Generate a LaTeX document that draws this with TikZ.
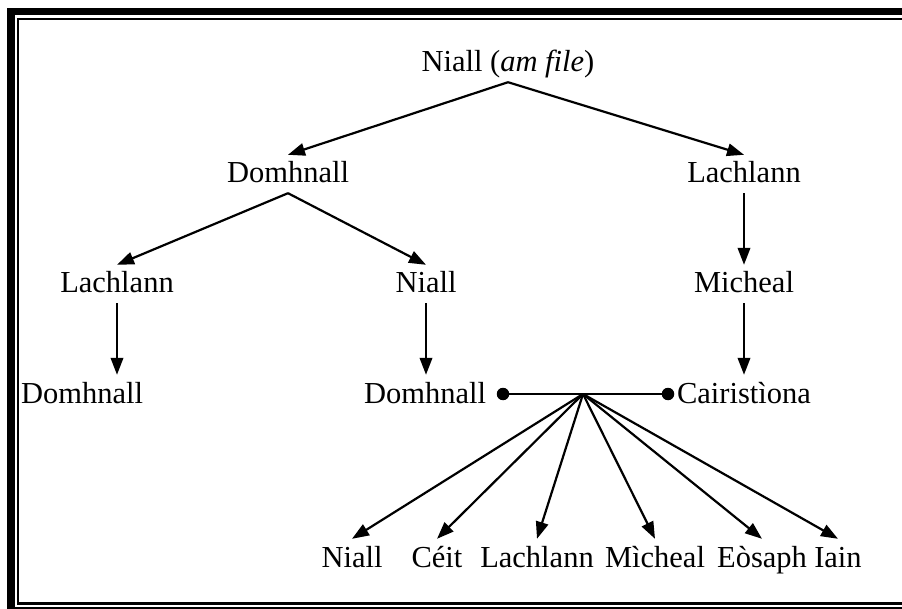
\documentclass[tikz,border=0pt]{standalone}
\usepackage{fontspec}
\setmainfont{Liberation Serif}
\usetikzlibrary{arrows.meta}
\begin{document}
\begin{tikzpicture}[x=1pt,y=-1pt,
  person/.style={anchor=base, inner sep=2.5pt, text height=25.5pt, text depth=7.5pt, font=\fontsize{30.5}{36}\selectfont},
  link/.style={line width=2.2pt, -{Triangle[length=17pt,width=12.5pt]}},
  bar/.style={line width=2.2pt},
  marriagedot/.style={circle, fill=black, draw=none, inner sep=0pt, outer sep=0pt, minimum size=12.5pt}]
\useasboundingbox (0,0) rectangle (902,609);
\clip (0,0) rectangle (902,609);
% frame
\fill[black] (7,8) rectangle (930,630);
\fill[white] (15,15.5) rectangle (925,606.5);
\draw[line width=2.5pt] (17.8,18.8) rectangle (940,603.5);
% people
\node[person] (n0) at (508,72) {Niall (\textit{am file})};
\node[person] (d1) at (288,183) {Domhnall};
\node[person] (l1) at (744,183) {Lachlann};
\node[person] (l2) at (117,293) {Lachlann};
\node[person] (n2) at (426,293) {Niall};
\node[person] (m2) at (744,293) {Micheal};
\node[person] (d3a) at (82,403) {Domhnall};
\node[person] (d3b) at (425,403) {Domhnall};
\node[person] (c3) at (744,403) {Cairistìona};
\node[person] (k1) at (352,567) {Niall};
\node[person] (k2) at (437,567) {Céit};
\node[person] (k3) at (537,567) {Lachlann};
\node[person] (k4) at (655,567) {Mìcheal};
\node[person] (k5) at (762,567) {Eòsaph};
\node[person] (k6) at (838,567) {Iain};
% marriage
\node[marriagedot] (da) at (503,394) {};
\node[marriagedot] (dc) at (668,394) {};
\coordinate (hub) at (583,394);
\draw[bar] (da.center) -- (dc.center);
% connectors
\draw[link] (n0.south) -- (d1.north);
\draw[link] (n0.south) -- (l1.north);
\draw[link] (d1.south) -- (l2.north);
\draw[link] (d1.south) -- (n2.north);
\draw[link] (l1.south) -- (m2.north);
\draw[link] (l2.south) -- (l2.south |- d3a.north);
\draw[link] (n2.south) -- (n2.south |- d3b.north);
\draw[link] (m2.south) -- (m2.south |- c3.north);
\foreach \k in {k1,k2,k3,k4,k5,k6}{\draw[link] (hub) -- (\k.north);}
\end{tikzpicture}
\end{document}
